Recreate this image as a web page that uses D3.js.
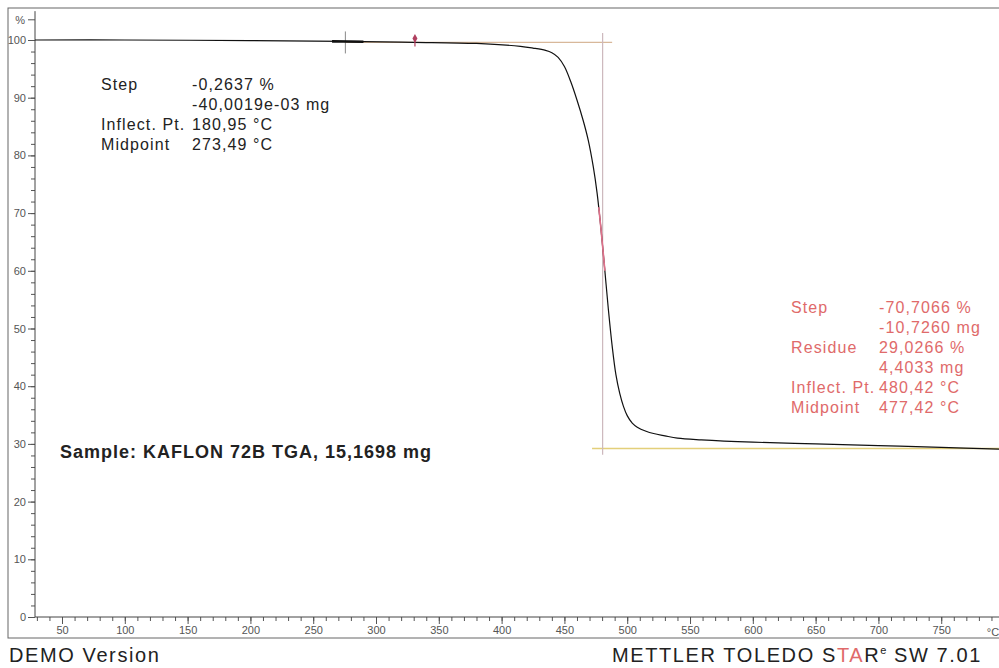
<!DOCTYPE html>
<html>
<head>
<meta charset="utf-8">
<script src="https://cdn.jsdelivr.net/npm/d3@7"></script>
<style>
  body { margin: 0; background: #fff; }
  svg { display: block; font-family: Arial, "Liberation Sans", sans-serif; }
  .axis text { font-size: 11px; fill: #555; }
  .axis line, .axis path { stroke: #555; }
</style>
</head>
<body>
<div id="chart"></div>
<script>
// TGA curve: temperature (°C) and mass (%)
const tempC = [28.5, 100, 200, 275, 330, 380, 415, 425, 435, 440, 445, 450, 455, 460, 465, 469,
  473, 476, 479, 482, 485, 488, 491, 494, 497, 500, 504, 508, 515, 521, 530, 540, 559, 600,
  650, 700, 750, 797];
const massPct = [100, 100, 99.9, 99.75, 99.6, 99.4, 98.9, 98.6, 98.2, 97.8, 97.0, 95.4, 92.8, 89.6, 86.0, 82.6,
  78.0, 73.5, 67.5, 60.5, 53.3, 47.0, 42.0, 38.8, 36.5, 34.9, 33.6, 32.9, 32.2, 31.8, 31.4, 31.0, 30.7, 30.3,
  30.0, 29.7, 29.4, 29.1];

const xMajorTicks = d3.range(50, 751, 50);
const xMinorTicks = d3.range(30, 800, 10);
const yMajorTicks = d3.range(0, 101, 10);
const yMinorTicks = d3.range(0, 101, 2);

// evaluation lines (data units)
const upperBaseline = { level: 99.6, from: 275, to: 488 };
const lowerBaseline = { level: 29.2, from: 472, to: 800 };
const inflection = { temp: 480.42, from: 101.2, to: 28.1 };
const step1Marker = 275.6;
const step1Point = { temp: 331, value: 99.75 };

const step1Labels = ["Step", "", "Inflect. Pt.", "Midpoint"];
const step1Values = ["-0,2637 %", "-40,0019e-03 mg", "180,95 °C", "273,49 °C"];
const step2Labels = ["Step", "", "Residue", "", "Inflect. Pt.", "Midpoint"];
const step2Values = ["-70,7066 %", "-10,7260 mg", "29,0266 %", "4,4033 mg", "480,42 °C", "477,42 °C"];
const sampleLabel = "Sample: KAFLON 72B TGA, 15,1698 mg";

const width = 999, height = 668;
const redText = "#e06a6a";

const svg = d3.select("#chart").append("svg")
  .attr("width", width)
  .attr("height", height);

const x = d3.scaleLinear().domain([28.5, 796]).range([35, 999]);
const y = d3.scaleLinear().domain([0, 100]).range([617, 40]);

// outer frame
svg.append("rect")
  .attr("x", 8).attr("y", 8)
  .attr("width", 1010).attr("height", 630)
  .attr("fill", "none").attr("stroke", "#666").attr("stroke-width", 1);

// x axis
svg.append("g").attr("class", "axis")
  .attr("transform", `translate(0,${y(0)})`)
  .call(d3.axisBottom(x).tickValues(xMinorTicks).tickSize(4).tickFormat(""))
  .call((g) => g.select(".domain").remove());
svg.append("g").attr("class", "axis")
  .attr("transform", `translate(0,${y(0)})`)
  .call(d3.axisBottom(x).tickValues(xMajorTicks).tickSize(7).tickPadding(2))
  .call((g) => g.select(".domain").remove());
svg.append("line")
  .attr("x1", x.range()[0]).attr("x2", width)
  .attr("y1", y(0)).attr("y2", y(0))
  .attr("stroke", "#444");
svg.append("text")
  .attr("x", 993).attr("y", 636)
  .attr("text-anchor", "middle")
  .style("font-size", "11px").style("fill", "#555")
  .text("°C");

// y axis
svg.append("g").attr("class", "axis")
  .attr("transform", `translate(${x.range()[0]},0)`)
  .call(d3.axisLeft(y).tickValues(yMinorTicks).tickSize(4).tickFormat(""))
  .call((g) => g.select(".domain").remove());
svg.append("g").attr("class", "axis")
  .attr("transform", `translate(${x.range()[0]},0)`)
  .call(d3.axisLeft(y).tickValues(yMajorTicks).tickSize(7).tickPadding(2))
  .call((g) => g.select(".domain").remove());
svg.append("line")
  .attr("x1", x.range()[0]).attr("x2", x.range()[0])
  .attr("y1", y(0)).attr("y2", y(105))
  .attr("stroke", "#444");
svg.append("line")
  .attr("x1", x.range()[0] - 7).attr("x2", x.range()[0])
  .attr("y1", y(103.5)).attr("y2", y(103.5))
  .attr("stroke", "#555");
svg.append("text")
  .attr("x", x.range()[0] - 10).attr("y", y(103.5))
  .attr("dy", "0.35em")
  .attr("text-anchor", "end")
  .style("font-size", "11px").style("fill", "#555")
  .text("%");

// evaluation lines
svg.append("line")
  .attr("x1", x(upperBaseline.from)).attr("x2", x(upperBaseline.to))
  .attr("y1", y(upperBaseline.level)).attr("y2", y(upperBaseline.level))
  .attr("stroke", "#d8b89a").attr("stroke-width", 1.2);
svg.append("line")
  .attr("x1", x(lowerBaseline.from)).attr("x2", x(lowerBaseline.to))
  .attr("y1", y(lowerBaseline.level)).attr("y2", y(lowerBaseline.level))
  .attr("stroke", "#e3cf7a").attr("stroke-width", 1.5);
svg.append("line")
  .attr("x1", x(inflection.temp)).attr("x2", x(inflection.temp))
  .attr("y1", y(inflection.from)).attr("y2", y(inflection.to))
  .attr("stroke", "#cdb8bd").attr("stroke-width", 1.2);
svg.append("line")
  .attr("x1", x(step1Marker)).attr("x2", x(step1Marker))
  .attr("y1", y(step1Point.value) - 10).attr("y2", y(step1Point.value) + 12)
  .attr("stroke", "#888").attr("stroke-width", 1);

// TGA curve
const points = tempC.map((t, i) => [t, massPct[i]]);
const line = d3.line()
  .x((d) => x(d[0]))
  .y((d) => y(d[1]))
  .curve(d3.curveCatmullRom.alpha(0.5));

const defs = svg.append("defs");
defs.append("clipPath").attr("id", "clip-thick")
  .append("rect")
  .attr("x", x(265)).attr("width", x(290) - x(265))
  .attr("y", 0).attr("height", height);
defs.append("clipPath").attr("id", "clip-pink")
  .append("rect")
  .attr("x", 0).attr("width", width)
  .attr("y", y(71)).attr("height", y(60) - y(71));

svg.append("path")
  .datum(points)
  .attr("d", line)
  .attr("fill", "none")
  .attr("stroke", "#111")
  .attr("stroke-width", 1.2);

// thicker noisy bit around the first step marker
svg.append("path")
  .datum(points)
  .attr("d", line)
  .attr("clip-path", "url(#clip-thick)")
  .attr("fill", "none")
  .attr("stroke", "#111")
  .attr("stroke-width", 2.6);

// pink highlight near the inflection point
svg.append("path")
  .datum(points)
  .attr("d", line)
  .attr("clip-path", "url(#clip-pink)")
  .attr("fill", "none")
  .attr("stroke", "#e0708a")
  .attr("stroke-width", 1.6);

// marker of first step
svg.append("line")
  .attr("x1", x(step1Point.temp)).attr("x2", x(step1Point.temp))
  .attr("y1", y(step1Point.value) - 3).attr("y2", y(step1Point.value) + 5)
  .attr("stroke", "#b04060").attr("stroke-width", 1.2);
svg.append("path")
  .attr("d", d3.symbol(d3.symbolDiamond, 22)())
  .attr("transform", `translate(${x(step1Point.temp)},${y(step1Point.value) - 3})`)
  .attr("fill", "#b04060");

// step 1 results (black)
const res1 = svg.append("g")
  .style("font-size", "16px").style("letter-spacing", "1.1px").style("fill", "#222");
res1.selectAll("text.lab").data(step1Labels).join("text")
  .attr("class", "lab")
  .attr("x", 101).attr("y", (d, i) => 90 + i * 20)
  .text((d) => d);
res1.selectAll("text.val").data(step1Values).join("text")
  .attr("class", "val")
  .attr("x", 192).attr("y", (d, i) => 90 + i * 20)
  .text((d) => d);

// step 2 results (red)
const res2 = svg.append("g")
  .style("font-size", "16px").style("letter-spacing", "1.1px").style("fill", redText);
res2.selectAll("text.lab").data(step2Labels).join("text")
  .attr("class", "lab")
  .attr("x", 791).attr("y", (d, i) => 313 + i * 20)
  .text((d) => d);
res2.selectAll("text.val").data(step2Values).join("text")
  .attr("class", "val")
  .attr("x", 879).attr("y", (d, i) => 313 + i * 20)
  .text((d) => d);

// sample name
svg.append("text")
  .attr("x", 60).attr("y", 458)
  .style("font-size", "18px").style("font-weight", "bold")
  .style("letter-spacing", "1px").style("fill", "#222")
  .text(sampleLabel);

// footer
svg.append("text")
  .attr("x", 9).attr("y", 662)
  .style("font-size", "20px").style("letter-spacing", "1.6px").style("fill", "#222")
  .text("DEMO Version");

const footer = svg.append("text")
  .attr("x", 612).attr("y", 662)
  .style("font-size", "20px").style("letter-spacing", "1.6px").style("fill", "#222");
footer.append("tspan").text("METTLER TOLEDO S");
footer.append("tspan").style("fill", redText).text("TA");
footer.append("tspan").text("R");
footer.append("tspan").attr("dy", -8).style("font-size", "11px").text("e");
footer.append("tspan").attr("dy", 8).attr("dx", 6).text("SW 7.01");
</script>
</body>
</html>
